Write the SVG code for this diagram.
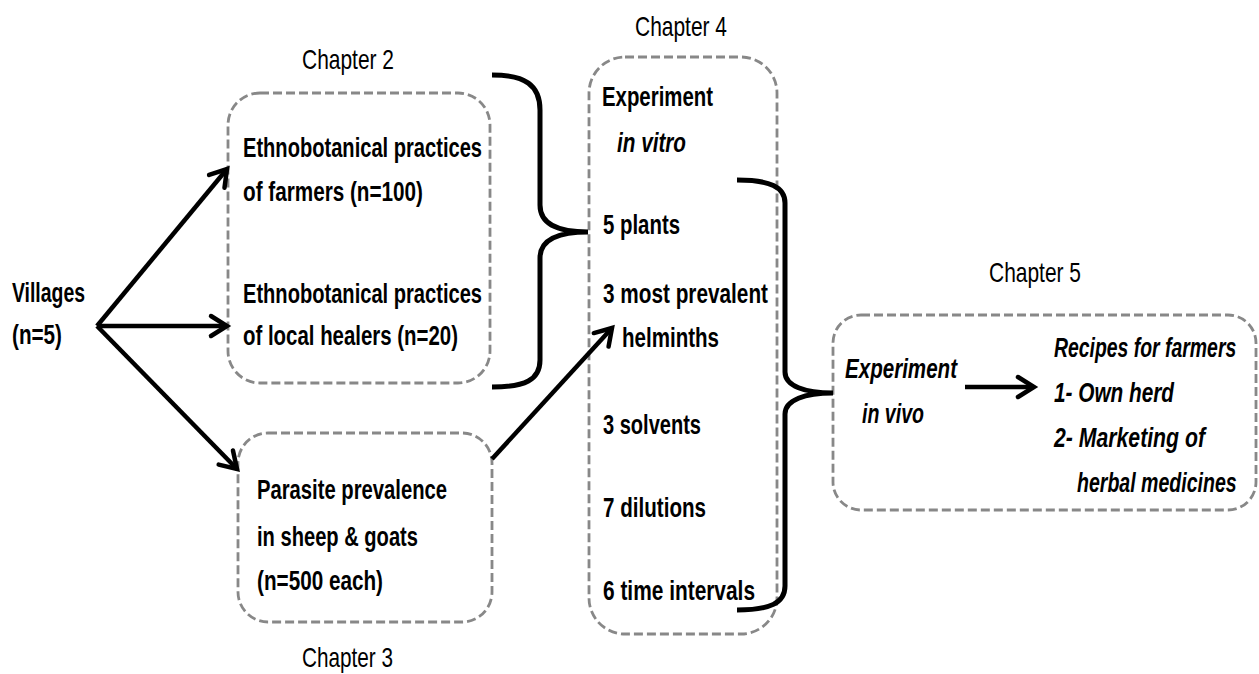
<svg xmlns="http://www.w3.org/2000/svg" width="1259" height="674" viewBox="0 0 1259 674">
<style>
.box{fill:none;stroke:#888;stroke-width:2.8;stroke-dasharray:9 4}
.t{font-family:"Liberation Sans",Arial,sans-serif;font-weight:bold;font-size:27px;fill:#000}
.ti{font-family:"Liberation Sans",Arial,sans-serif;font-weight:bold;font-style:italic;font-size:27px;fill:#000}
.ch{font-family:"Liberation Sans",Arial,sans-serif;font-size:28px;fill:#000}
.arr{fill:none;stroke:#000;stroke-width:4.5;marker-end:url(#ah)}
.brace{fill:none;stroke:#000;stroke-width:5}
</style>
<defs>
<marker id="ah" markerUnits="userSpaceOnUse" markerWidth="34" markerHeight="34" viewBox="-22 -17 34 34" refX="0" refY="0" orient="auto">
<path d="M-16,-10 L0,0 L-16,10" fill="none" stroke="#000" stroke-width="4.5" stroke-linecap="round" stroke-linejoin="miter"/>
</marker>
</defs>
<rect width="1259" height="674" fill="#fff"/>

<g id="villages">
<text class="t" x="12" y="302" textLength="73" lengthAdjust="spacingAndGlyphs">Villages</text>
<text class="t" x="12" y="344" textLength="50" lengthAdjust="spacingAndGlyphs">(n=5)</text>
</g>

<g id="chapter2">
<text class="ch" x="302" y="69" textLength="92" lengthAdjust="spacingAndGlyphs">Chapter 2</text>
<rect class="box" x="228" y="93" width="262" height="290" rx="32"/>
<text class="t" x="243" y="157" textLength="239" lengthAdjust="spacingAndGlyphs">Ethnobotanical practices</text>
<text class="t" x="243" y="201" textLength="180" lengthAdjust="spacingAndGlyphs">of farmers (n=100)</text>
<text class="t" x="243" y="303" textLength="239" lengthAdjust="spacingAndGlyphs">Ethnobotanical practices</text>
<text class="t" x="243" y="345" textLength="215" lengthAdjust="spacingAndGlyphs">of local healers (n=20)</text>
</g>

<g id="chapter3">
<rect class="box" x="238" y="433" width="254" height="189" rx="30"/>
<text class="t" x="257" y="499" textLength="190" lengthAdjust="spacingAndGlyphs">Parasite prevalence</text>
<text class="t" x="257" y="546" textLength="161" lengthAdjust="spacingAndGlyphs">in sheep &amp; goats</text>
<text class="t" x="257" y="590" textLength="126" lengthAdjust="spacingAndGlyphs">(n=500 each)</text>
<text class="ch" x="302" y="667" textLength="91" lengthAdjust="spacingAndGlyphs">Chapter 3</text>
</g>

<g id="chapter4">
<text class="ch" x="635" y="36" textLength="92" lengthAdjust="spacingAndGlyphs">Chapter 4</text>
<rect class="box" x="589" y="57" width="188" height="577" rx="36"/>
<text class="t" x="602" y="106" textLength="111" lengthAdjust="spacingAndGlyphs">Experiment</text>
<text class="ti" x="617" y="152" textLength="69" lengthAdjust="spacingAndGlyphs">in vitro</text>
<text class="t" x="603" y="234" textLength="77" lengthAdjust="spacingAndGlyphs">5 plants</text>
<text class="t" x="603" y="303" textLength="165" lengthAdjust="spacingAndGlyphs">3 most prevalent</text>
<text class="t" x="622" y="347" textLength="97" lengthAdjust="spacingAndGlyphs">helminths</text>
<text class="t" x="603" y="434" textLength="98" lengthAdjust="spacingAndGlyphs">3 solvents</text>
<text class="t" x="603" y="517" textLength="103" lengthAdjust="spacingAndGlyphs">7 dilutions</text>
<text class="t" x="603" y="600" textLength="152" lengthAdjust="spacingAndGlyphs">6 time intervals</text>
</g>

<g id="chapter5">
<text class="ch" x="989" y="282" textLength="92" lengthAdjust="spacingAndGlyphs">Chapter 5</text>
<rect class="box" x="833" y="315" width="423" height="195" rx="28"/>
<text class="ti" x="845" y="378" textLength="112" lengthAdjust="spacingAndGlyphs">Experiment</text>
<text class="ti" x="862" y="423" textLength="62" lengthAdjust="spacingAndGlyphs">in vivo</text>
<text class="ti" transform="translate(1054,357) scale(0.75,1)" x="0" y="0" textLength="243" lengthAdjust="spacingAndGlyphs">Recipes for farmers</text>
<text class="ti" x="1054" y="402" textLength="120" lengthAdjust="spacingAndGlyphs">1- Own herd</text>
<text class="ti" x="1054" y="447" textLength="151" lengthAdjust="spacingAndGlyphs">2- Marketing of</text>
<text class="ti" transform="translate(1077,492) scale(0.75,1)" x="0" y="0" textLength="213" lengthAdjust="spacingAndGlyphs">herbal medicines</text>
</g>

<g id="connectors">
<line class="arr" x1="97" y1="326" x2="227" y2="169"/>
<line class="arr" x1="97" y1="326" x2="227" y2="326"/>
<line class="arr" x1="97" y1="326" x2="237" y2="469"/>
<line class="arr" x1="492" y1="459" x2="612" y2="328"/>
<line class="arr" x1="965" y1="387" x2="1034" y2="387"/>
<path class="brace" d="M492,75 C525,75 540,85 540,110 L540,205 C540,224 558,232 588,232 C558,232 540,240 540,258 L540,360 C540,380 525,387 492,387"/>
<path class="brace" d="M737,180 C770,180 785,187 785,203 L785,372 C785,386 805,393 833,393 C805,393 785,400 785,414 L785,586 C785,603 770,610 737,610"/>
</g>
</svg>
